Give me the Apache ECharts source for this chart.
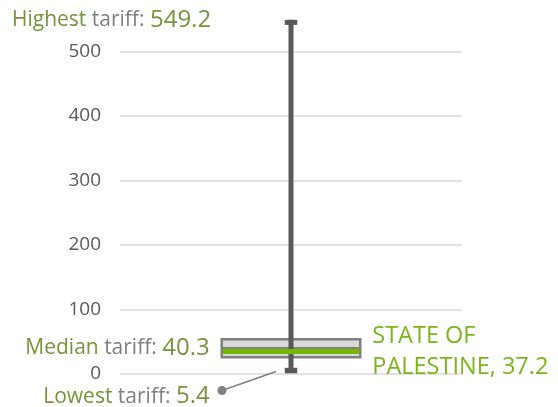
<!DOCTYPE html>
<html>
<head>
<meta charset="utf-8">
<script src="https://cdn.jsdelivr.net/npm/echarts@6/dist/echarts.min.js"></script>
<style>
html,body{margin:0;padding:0;background:#fff;}
#c{width:558px;height:407px;}
</style>
</head>
<body>
<div id="c"></div>
<script>
const categories = ['STATE OF PALESTINE'];
const lowest = [5.4];
const q1 = [26];
const median = [40.3];
const q3 = [54];
const highest = [549.2];
const country = [37.2];
const yTicks = [0, 100, 200, 300, 400, 500];

const FONT = 'Open Sans';
const OLIVE = '#77933c';
const GREY = '#808080';
const BRIGHT = '#76b900';

const chart = echarts.init(document.getElementById('c'), null, {renderer: 'canvas'});
const data = categories.map((c, i) => [i, lowest[i], q1[i], median[i], q3[i], highest[i], country[i]]);

const labelRich = {
  a: {fontFamily: FONT, fontSize: 21, fill: OLIVE},
  b: {fontFamily: FONT, fontSize: 21, fill: GREY},
  c: {fontFamily: FONT, fontSize: 24, fill: OLIVE}
};

chart.setOption({
  animation: false,
  grid: {left: 120, right: 96, top: 0, bottom: 33},
  xAxis: {
    type: 'category', data: categories,
    axisLine: {show: false}, axisTick: {show: false}, axisLabel: {show: false}
  },
  yAxis: {
    type: 'value', min: 0, max: 580, interval: 100,
    axisLine: {show: false}, axisTick: {show: false},
    splitLine: {showMaxLine: false, lineStyle: {color: '#d9d9d9', width: 1.5}},
    axisLabel: {
      margin: 19, color: '#595959', fontFamily: FONT, fontSize: 19, showMaxLabel: false,
      formatter: v => yTicks.indexOf(v) >= 0 ? String(v) : ''
    }
  },
  series: [{
    type: 'custom',
    clip: false,
    data: data,
    encode: {x: 0, y: [1, 5]},
    renderItem: function (params, api) {
      const i = api.value(0);
      const lo = api.coord([i, api.value(1)]);
      const b1 = api.coord([i, api.value(2)]);
      const med = api.coord([i, api.value(3)]);
      const b3 = api.coord([i, api.value(4)]);
      const hi = api.coord([i, api.value(5)]);
      const cv = api.coord([i, api.value(6)]);
      const x = lo[0];
      const bw = api.size([1, 0])[0] * 0.405;
      const capW = 12.5;
      const left = x - bw / 2, right = x + bw / 2;
      return {
        type: 'group',
        children: [
          {type: 'rect', shape: {x: left, y: b3[1], width: bw, height: b1[1] - b3[1]},
           style: {fill: '#d9d9d9', stroke: GREY, lineWidth: 2.5}},
          {type: 'line', shape: {x1: left, y1: med[1], x2: right, y2: med[1]},
           style: {stroke: GREY, lineWidth: 2}},
          {type: 'line', shape: {x1: x, y1: lo[1], x2: x, y2: hi[1]},
           style: {stroke: '#595959', lineWidth: 5}},
          {type: 'line', shape: {x1: x - capW / 2, y1: hi[1] + 2.5, x2: x + capW / 2, y2: hi[1] + 2.5},
           style: {stroke: '#595959', lineWidth: 5}},
          {type: 'line', shape: {x1: x - capW / 2, y1: lo[1], x2: x + capW / 2, y2: lo[1]},
           style: {stroke: '#595959', lineWidth: 5.5}},
          {type: 'line', shape: {x1: left + 1, y1: cv[1] + 1.5, x2: right - 1, y2: cv[1] + 1.5},
           style: {stroke: BRIGHT, lineWidth: 5}},
          // lowest tariff leader
          {type: 'line', shape: {x1: x - 15, y1: lo[1] + 1, x2: x - 69, y2: lo[1] + 20},
           style: {stroke: GREY, lineWidth: 1.5}},
          {type: 'circle', shape: {cx: x - 69, cy: lo[1] + 20, r: 4.5},
           style: {fill: GREY}},
          // labels
          {type: 'text', x: 12, y: hi[1],
           style: {text: '{a|Highest }{b|tariff: }{c|' + api.value(5) + '}',
             textAlign: 'left', textVerticalAlign: 'middle', rich: labelRich}},
          {type: 'text', x: left - 12, y: med[1],
           style: {text: '{a|Median }{b|tariff: }{c|' + api.value(3) + '}',
             textAlign: 'right', textVerticalAlign: 'middle', rich: labelRich}},
          {type: 'text', x: left - 12, y: lo[1] + 26,
           style: {text: '{a|Lowest }{b|tariff: }{c|' + api.value(1) + '}',
             textAlign: 'right', textVerticalAlign: 'middle', rich: labelRich}},
          {type: 'text', x: right + 12, y: cv[1] + 2,
           style: {text: 'STATE OF\nPALESTINE, ' + api.value(6),
             textAlign: 'left', textVerticalAlign: 'middle',
             fontFamily: FONT, fontSize: 23.5, lineHeight: 31.5, fill: '#7ab51d'}}
        ]
      };
    }
  }]
});
</script>
</body>
</html>
